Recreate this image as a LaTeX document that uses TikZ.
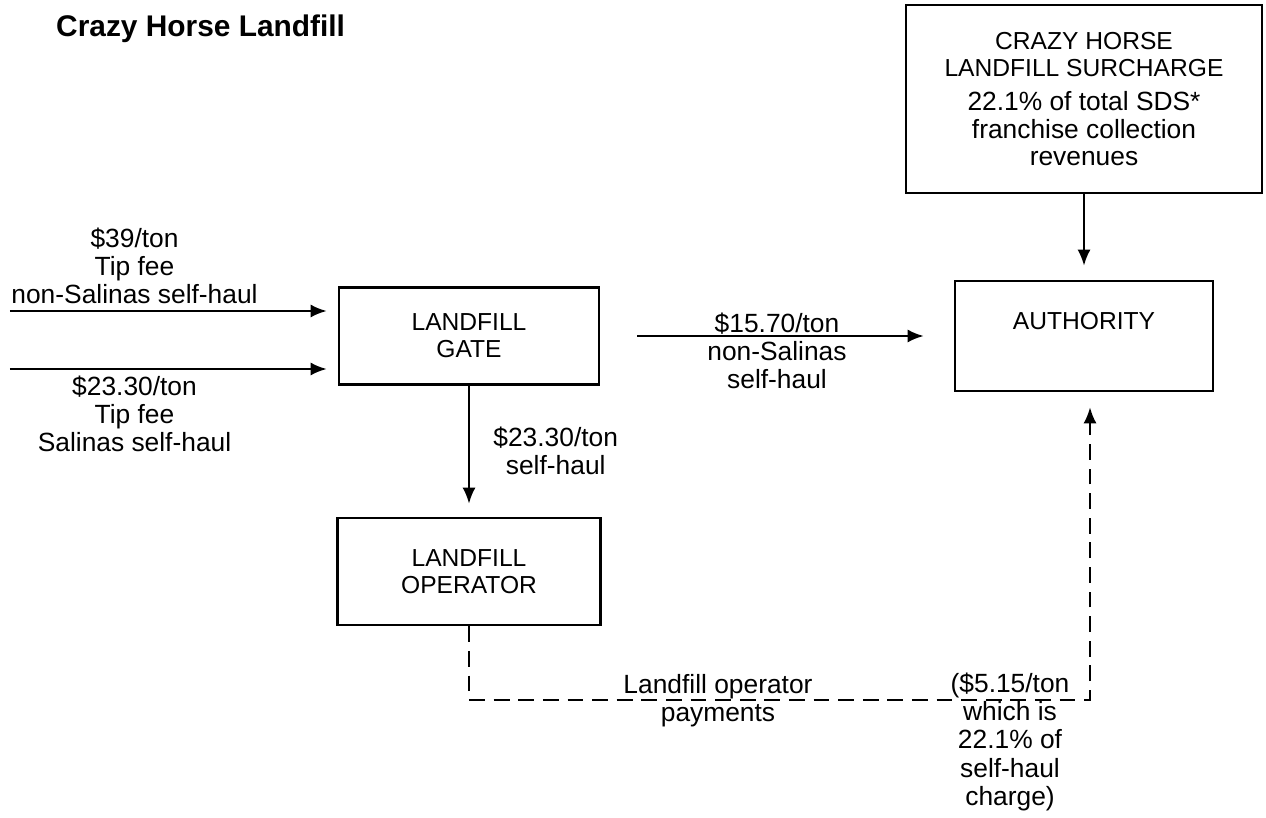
\documentclass[tikz,border=0pt]{standalone}
\usepackage{fontspec}
\setmainfont{Liberation Sans}
\usetikzlibrary{arrows.meta,positioning}
\newcommand{\boxfont}{\fontsize{14}{15.5}\selectfont}
\newcommand{\txtfont}{\fontsize{15}{16}\selectfont}

\begin{document}
\begin{tikzpicture}[
    blk/.style={draw,line width=1.5pt,font=\boxfont,align=center},
    flow/.style={line width=1.2pt,-{Latex[length=3.2mm,width=2.6mm]}},
    paid/.style={dash pattern=on 9pt off 5pt},
    lbl/.style={font=\txtfont,align=center}]
    \useasboundingbox (0,0) rectangle (25.32,16.34);
    \node[anchor=west,font=\fontsize{17}{20}\selectfont\bfseries] (title) at (1,15.76) {Crazy Horse Landfill};
    \node[blk,minimum width=7.12cm,minimum height=3.76cm] (surcharge) at (21.68,14.36)
        {CRAZY HORSE\\LANDFILL SURCHARGE\\[4pt]{\txtfont 22.1\% of total SDS*}\\{\txtfont franchise collection}\\{\txtfont revenues}};
    \node[blk,minimum width=5.16cm,minimum height=2.2cm,text depth=0.62cm] (authority) at (21.68,9.62) {AUTHORITY};
    \node[blk,minimum width=5.2cm,minimum height=1.94cm] (gate) at (9.38,9.62) {LANDFILL\\GATE};
    \node[blk,minimum width=5.25cm,minimum height=2.14cm] (operator) at (9.38,4.91) {LANDFILL\\OPERATOR};
    \coordinate (in1) at (0.2,10.12);
    \coordinate (in2) at (0.2,8.96);
    \coordinate (bend) at (21.8,2.34);
    \draw [flow,shorten >=0.22cm] (in1) -- (in1 -| gate.west)
        node[lbl,pos=0.38,above]{\$39/ton\\Tip fee\\non-Salinas self-haul};
    \draw [flow,shorten >=0.22cm] (in2) -- (in2 -| gate.west)
        node[lbl,pos=0.38,below]{\$23.30/ton\\Tip fee\\Salinas self-haul};
    \draw [flow,shorten <=0.74cm,shorten >=0.6cm] (gate.east) -- (authority.west)
        node[lbl,midway,yshift=-0.3cm]{\$15.70/ton\\non-Salinas\\self-haul};
    \draw [flow,shorten >=0.26cm] (gate) -- (operator)
        node[lbl,midway,right=0.35cm]{\$23.30/ton\\self-haul};
    \draw [flow,shorten >=0.28cm] (surcharge) -- (authority);
    \draw [flow,paid,shorten >=0.3cm] (operator.south) |- (bend) -- (bend |- authority.south);
    \node[lbl] (payments) at (14.36,2.32) {Landfill operator\\payments};
    \node[lbl,anchor=north] (share) at (20.2,3.0) {(\$5.15/ton\\which is\\22.1\% of\\self-haul\\charge)};
\end{tikzpicture}
\end{document}
